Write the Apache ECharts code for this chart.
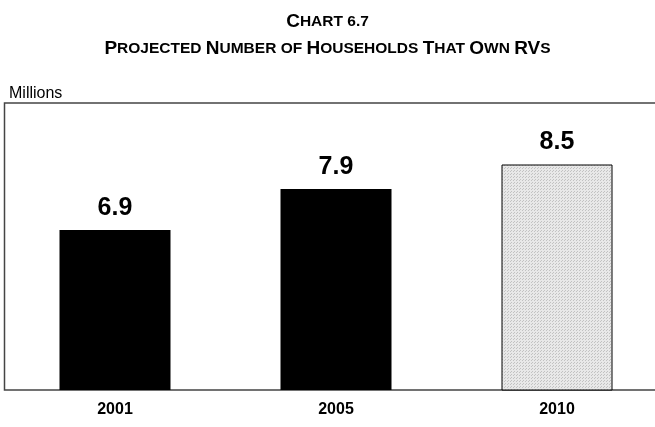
<!DOCTYPE html>
<html>
<head>
<meta charset="utf-8">
<script src="https://cdn.jsdelivr.net/npm/echarts@6/dist/echarts.min.js"></script>
<style>
  html, body { margin: 0; padding: 0; background: #fff; }
  #chart { width: 655px; height: 427px; }
</style>
</head>
<body>
<div id="chart"></div>
<script>
// data
const years = ['2001', '2005', '2010'];
const households = [6.9, 7.9, 8.5];   // millions
const projected = [false, false, true]; // 2010 is the projected bar

// dotted light-gray fill for the projected bar
function dotPattern() {
  const c = document.createElement('canvas');
  c.width = 3; c.height = 3;
  const ctx = c.getContext('2d');
  ctx.fillStyle = '#e8e8e8';
  ctx.fillRect(0, 0, 3, 3);
  ctx.fillStyle = '#c2c2c2';
  ctx.fillRect(0, 0, 1, 1);
  ctx.fillRect(1, 2, 1, 1);
  return c;
}

const chart = echarts.init(document.getElementById('chart'));
const font = 'Liberation Sans, Arial, sans-serif';

// small caps title: big = capital letters, small = the rest
const big = { fontSize: 19, fontWeight: 'bold', fontFamily: font, color: '#000' };
const small = { fontSize: 15.5, fontWeight: 'bold', fontFamily: font, color: '#000' };

const option = {
  backgroundColor: '#fff',
  animation: false,
  title: [
    {
      text: '{b|C}{s|HART 6.7}',
      left: 'center',
      top: 12,
      padding: 0,
      textStyle: { rich: { b: big, s: small } }
    },
    {
      text: '{b|P}{s|ROJECTED }{b|N}{s|UMBER OF }{b|H}{s|OUSEHOLDS }{b|T}{s|HAT }{b|O}{s|WN }{b|RV}{s|S}',
      left: 'center',
      top: 39,
      padding: 0,
      textStyle: { rich: { b: big, s: small } }
    },
    {
      text: 'Millions',
      left: 9,
      top: 86,
      padding: 0,
      textStyle: { fontSize: 16, fontWeight: 'normal', fontFamily: font, color: '#000' }
    }
  ],
  grid: {
    left: 4.5,
    top: 103,
    width: 663,
    height: 287,
    outerBoundsMode: 'none',
    show: true,
    borderColor: '#444',
    borderWidth: 1.5,
    backgroundColor: 'transparent'
  },
  xAxis: {
    type: 'category',
    data: years,
    axisLine: { show: false },
    axisTick: { show: false },
    axisLabel: {
      margin: 12,
      fontSize: 16,
      fontWeight: 'bold',
      fontFamily: font,
      color: '#000'
    }
  },
  yAxis: {
    type: 'value',
    min: 3,
    max: 10,
    show: false,
    splitLine: { show: false }
  },
  series: [
    {
      type: 'bar',
      barWidth: 111,
      data: households.map((v, i) => ({
        value: v,
        itemStyle: projected[i]
          ? { color: { image: dotPattern(), repeat: 'repeat' }, borderColor: '#000', borderWidth: 1 }
          : { color: '#000' }
      })),
      label: {
        show: true,
        position: 'top',
        distance: 9.5,
        fontSize: 25,
        fontWeight: 'bold',
        fontFamily: font,
        color: '#000',
        formatter: p => p.value.toFixed(1)
      }
    }
  ]
};

chart.setOption(option);
</script>
</body>
</html>
